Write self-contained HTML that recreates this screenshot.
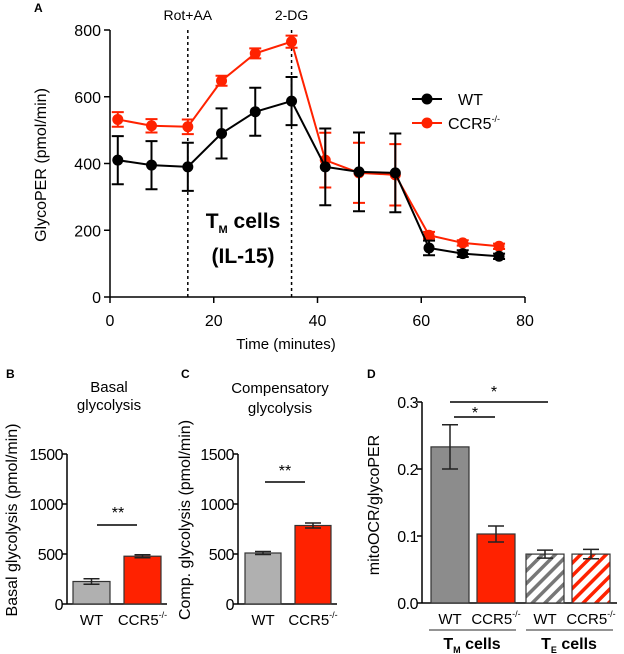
<!DOCTYPE html>
<html><head><meta charset="utf-8">
<style>
body{margin:0;background:#fff;}
svg{display:block;font-family:"Liberation Sans",Arial,sans-serif;}
</style></head>
<body>
<svg id="fig" width="624" height="654" viewBox="0 0 624 654">
<defs>
<pattern id="hatchGray" patternUnits="userSpaceOnUse" width="9" height="9" patternTransform="rotate(45)">
<rect width="9" height="9" fill="#fff"/><rect width="3.5" height="9" fill="#777"/></pattern>
<pattern id="hatchRed" patternUnits="userSpaceOnUse" width="9" height="9" patternTransform="rotate(45)">
<rect width="9" height="9" fill="#fff"/><rect width="3.5" height="9" fill="#ff2200"/></pattern>
</defs>
<g id="A"></g>
<g id="B"></g>
<g id="C"></g>
<g id="D"></g>
</svg>
<script>
const times=[1.5,8,15,21.5,28,35,41.5,48,55,61.5,68,75];
const wtVals=[410,395,390,490,555,587,390,375,372,147,130,122];
const wtErr=[72,72,72,75,72,72,115,118,118,22,10,8];
const koVals=[532,513,510,648,730,765,410,372,366,185,162,152];
const koErr=[22,20,22,15,15,18,82,90,92,10,8,8];
const xTicksA=[0,20,40,60,80];
const yTicksA=[0,200,400,600,800];
const injections=[15,35];
const injLabels=["Rot+AA","2-DG"];
const basalCats=["WT","CCR5"];
const basalVals=[225,478];
const basalErr=[28,15];
const compVals=[510,785];
const compErr=[15,25];
const yTicksBC=[0,500,1000,1500];
const ratioVals=[0.233,0.103,0.073,0.073];
const ratioErr=[0.033,0.012,0.006,0.007];
const yTicksD=[0.0,0.1,0.2,0.3];
const yTickLabelsD=["0.0","0.1","0.2","0.3"];

const NS="http://www.w3.org/2000/svg";
function mk(parent,tag,attrs,text){const e=document.createElementNS(NS,tag);for(const k in attrs)e.setAttribute(k,attrs[k]);if(text!==undefined)e.textContent=text;parent.appendChild(e);return e;}
const RED="#ff2200";

// Panel A
const A=document.getElementById('A');
const ax=v=>110+v*(415/80), ay=v=>297-v*(267/800);
let t=mk(A,'text',{x:34,y:12,'font-size':12,'font-weight':'bold'},'A');

let l=mk(A,'line',{x1:110,y1:30,x2:110,y2:297,stroke:'#000','stroke-width':1.5});

l=mk(A,'line',{x1:110,y1:297,x2:525,y2:297,stroke:'#000','stroke-width':1.5});

yTicksA.forEach(v=>{
 mk(A,'line',{x1:104,x2:110,y1:ay(v),y2:ay(v),stroke:'#000','stroke-width':1.5});
 t=mk(A,'text',{x:101,y:ay(v)+6,'font-size':16,'text-anchor':'end'},v);
 
});
xTicksA.forEach(v=>{
 mk(A,'line',{x1:ax(v),x2:ax(v),y1:297,y2:303,stroke:'#000','stroke-width':1.5});
 t=mk(A,'text',{x:ax(v),y:326,'font-size':16,'text-anchor':'middle'},v);
 
});
t=mk(A,'text',{x:286,y:349,'font-size':15,'text-anchor':'middle'},'Time (minutes)');

t=mk(A,'text',{x:0,y:0,'font-size':16,'text-anchor':'middle',transform:'translate(46,165) rotate(-90)'},'GlycoPER (pmol/min)');

injections.forEach((v,i)=>{
 l=mk(A,'line',{x1:ax(v),x2:ax(v),y1:30,y2:297,stroke:'#000','stroke-width':1.5,'stroke-dasharray':'3,3'});
 
 t=mk(A,'text',{x:ax(v),y:20,'font-size':14,'text-anchor':'middle'},injLabels[i]);
 
});
t=mk(A,'text',{x:243,y:228,'font-size':21,'font-weight':'bold','text-anchor':'middle'});
t.innerHTML='T<tspan font-size="11" dy="5">M</tspan><tspan dy="-5"> cells</tspan>';

t=mk(A,'text',{x:243,y:263,'font-size':21,'font-weight':'bold','text-anchor':'middle'},'(IL-15)');

function series(vals,err,color,name){
 const g=mk(A,'g',{});
 
 const pts=times.map((x,i)=>ax(x)+','+ay(vals[i])).join(' ');
 mk(g,'polyline',{points:pts,fill:'none',stroke:color,'stroke-width':2});
 times.forEach((x,i)=>{
  const cx=ax(x);
  const e=mk(g,'path',{d:`M${cx},${ay(vals[i]+err[i])}V${ay(vals[i]-err[i])}M${cx-6},${ay(vals[i]+err[i])}h12M${cx-6},${ay(vals[i]-err[i])}h12`,stroke:color,'stroke-width':2,fill:'none'});
  
  const c=mk(g,'circle',{cx:cx,cy:ay(vals[i]),r:5.5,fill:color});
  
 });
}
series(koVals,koErr,RED,'ccr5');
series(wtVals,wtErr,'#000','wt');
let lg=mk(A,'g',{});
let le=mk(lg,'g',{});
mk(le,'line',{x1:412,x2:442,y1:99,y2:99,stroke:'#000','stroke-width':2});
mk(le,'circle',{cx:427,cy:99,r:5.5,fill:'#000'});
mk(le,'text',{x:458,y:105,'font-size':16},'WT');
le=mk(lg,'g',{});
mk(le,'line',{x1:412,x2:442,y1:123,y2:123,stroke:RED,'stroke-width':2});
mk(le,'circle',{cx:427,cy:123,r:5.5,fill:RED});
t=mk(le,'text',{x:448,y:129,'font-size':16});t.innerHTML='CCR5<tspan font-size="9" dy="-7">-/-</tspan>';

// Bar panel helper
function barPanel(G,axX,axEnd,y0,yTop,maxV,ticks,tickLabels,cats,vals,err,fills,barXs,barW,prefix){
 const sy=v=>y0-v*(y0-yTop)/maxV;
 l=mk(G,'line',{x1:axX,x2:axX,y1:yTop,y2:y0,stroke:'#000','stroke-width':1.5});
 
 l=mk(G,'line',{x1:axX,x2:axEnd,y1:y0,y2:y0,stroke:'#000','stroke-width':1.5});
 
 ticks.forEach((v,i)=>{
  mk(G,'line',{x1:axX-5,x2:axX,y1:sy(v),y2:sy(v),stroke:'#000','stroke-width':1.5});
  t=mk(G,'text',{x:axX-4,y:sy(v)+6,'font-size':16,'text-anchor':'end','letter-spacing':'-0.5'},tickLabels[i]);
  
 });
 vals.forEach((v,i)=>{
  const x=barXs[i];
  const r=mk(G,'rect',{x:x,y:sy(v),width:barW,height:y0-sy(v),fill:fills[i],stroke:'#333','stroke-width':1.2});
  
  const cx=x+barW/2;
  const e=mk(G,'path',{d:`M${cx},${sy(v+err[i])}V${sy(v-err[i])}M${cx-8},${sy(v+err[i])}h16M${cx-8},${sy(v-err[i])}h16`,stroke:'#222','stroke-width':1.5,fill:'none'});
  
  t=mk(G,'text',{x:cx,y:y0+21,'font-size':15,'text-anchor':'middle'});
  t.innerHTML=cats[i]==='WT'?'WT':'CCR5<tspan font-size="9" dy="-7">-/-</tspan>';
  
 });
 return sy;
}
// B
const B=document.getElementById('B');
mk(B,'text',{x:6,y:378,'font-size':12,'font-weight':'bold'},'B');
mk(B,'text',{x:109,y:392,'font-size':15,'text-anchor':'middle'},'Basal');
mk(B,'text',{x:109,y:410,'font-size':15,'text-anchor':'middle'},'glycolysis');
t=mk(B,'text',{x:0,y:0,'font-size':16,'text-anchor':'middle',transform:'translate(17,520) rotate(-90)'},'Basal glycolysis (pmol/min)');

barPanel(B,67,167,604,454,1500,yTicksBC,yTicksBC.map(String),basalCats,basalVals,basalErr,['#b0b0b0',RED],[73,124],37,'b');
mk(B,'line',{x1:97,x2:137,y1:525,y2:525,stroke:'#000','stroke-width':1.5});
mk(B,'text',{x:118,y:518,'font-size':16,'text-anchor':'middle'},'**');
// C
const C=document.getElementById('C');
mk(C,'text',{x:181,y:378,'font-size':12,'font-weight':'bold'},'C');
mk(C,'text',{x:280,y:393,'font-size':15,'text-anchor':'middle'},'Compensatory');
mk(C,'text',{x:280,y:413,'font-size':15,'text-anchor':'middle'},'glycolysis');
t=mk(C,'text',{x:0,y:0,'font-size':16,'text-anchor':'middle',transform:'translate(190,520) rotate(-90)'},'Comp. glycolysis (pmol/min)');

barPanel(C,238,337,604,454,1500,yTicksBC,yTicksBC.map(String),basalCats,compVals,compErr,['#b0b0b0',RED],[245,295],36,'c');
mk(C,'line',{x1:265,x2:305,y1:482,y2:482,stroke:'#000','stroke-width':1.5});
mk(C,'text',{x:285,y:476,'font-size':16,'text-anchor':'middle'},'**');
// D
const D=document.getElementById('D');
mk(D,'text',{x:367,y:378,'font-size':12,'font-weight':'bold'},'D');
t=mk(D,'text',{x:0,y:0,'font-size':16,'text-anchor':'middle',transform:'translate(379,505) rotate(-90)'},'mitoOCR/glycoPER');

barPanel(D,422,617,603,402,0.3,yTicksD,yTickLabelsD,['WT','CCR5','WT','CCR5'],ratioVals,ratioErr,['#8c8c8c',RED,'url(#hatchGray)','url(#hatchRed)'],[431,477,526,572],38,'d');
l=mk(D,'line',{x1:454,x2:495,y1:417,y2:417,stroke:'#000','stroke-width':1.5});

mk(D,'text',{x:475,y:418,'font-size':16,'text-anchor':'middle'},'*');
l=mk(D,'line',{x1:450,x2:548,y1:402,y2:402,stroke:'#000','stroke-width':1.5});

mk(D,'text',{x:494,y:397,'font-size':16,'text-anchor':'middle'},'*');
mk(D,'line',{x1:429,x2:516,y1:630,y2:630,stroke:'#555','stroke-width':1.2});
t=mk(D,'text',{x:472,y:649,'font-size':16,'font-weight':'bold','text-anchor':'middle'});
t.innerHTML='T<tspan font-size="9" dy="4">M</tspan><tspan dy="-4"> cells</tspan>';

mk(D,'line',{x1:526,x2:613,y1:630,y2:630,stroke:'#555','stroke-width':1.2});
t=mk(D,'text',{x:569,y:649,'font-size':16,'font-weight':'bold','text-anchor':'middle'});
t.innerHTML='T<tspan font-size="9" dy="4">E</tspan><tspan dy="-4"> cells</tspan>';

</script>
</body></html>
